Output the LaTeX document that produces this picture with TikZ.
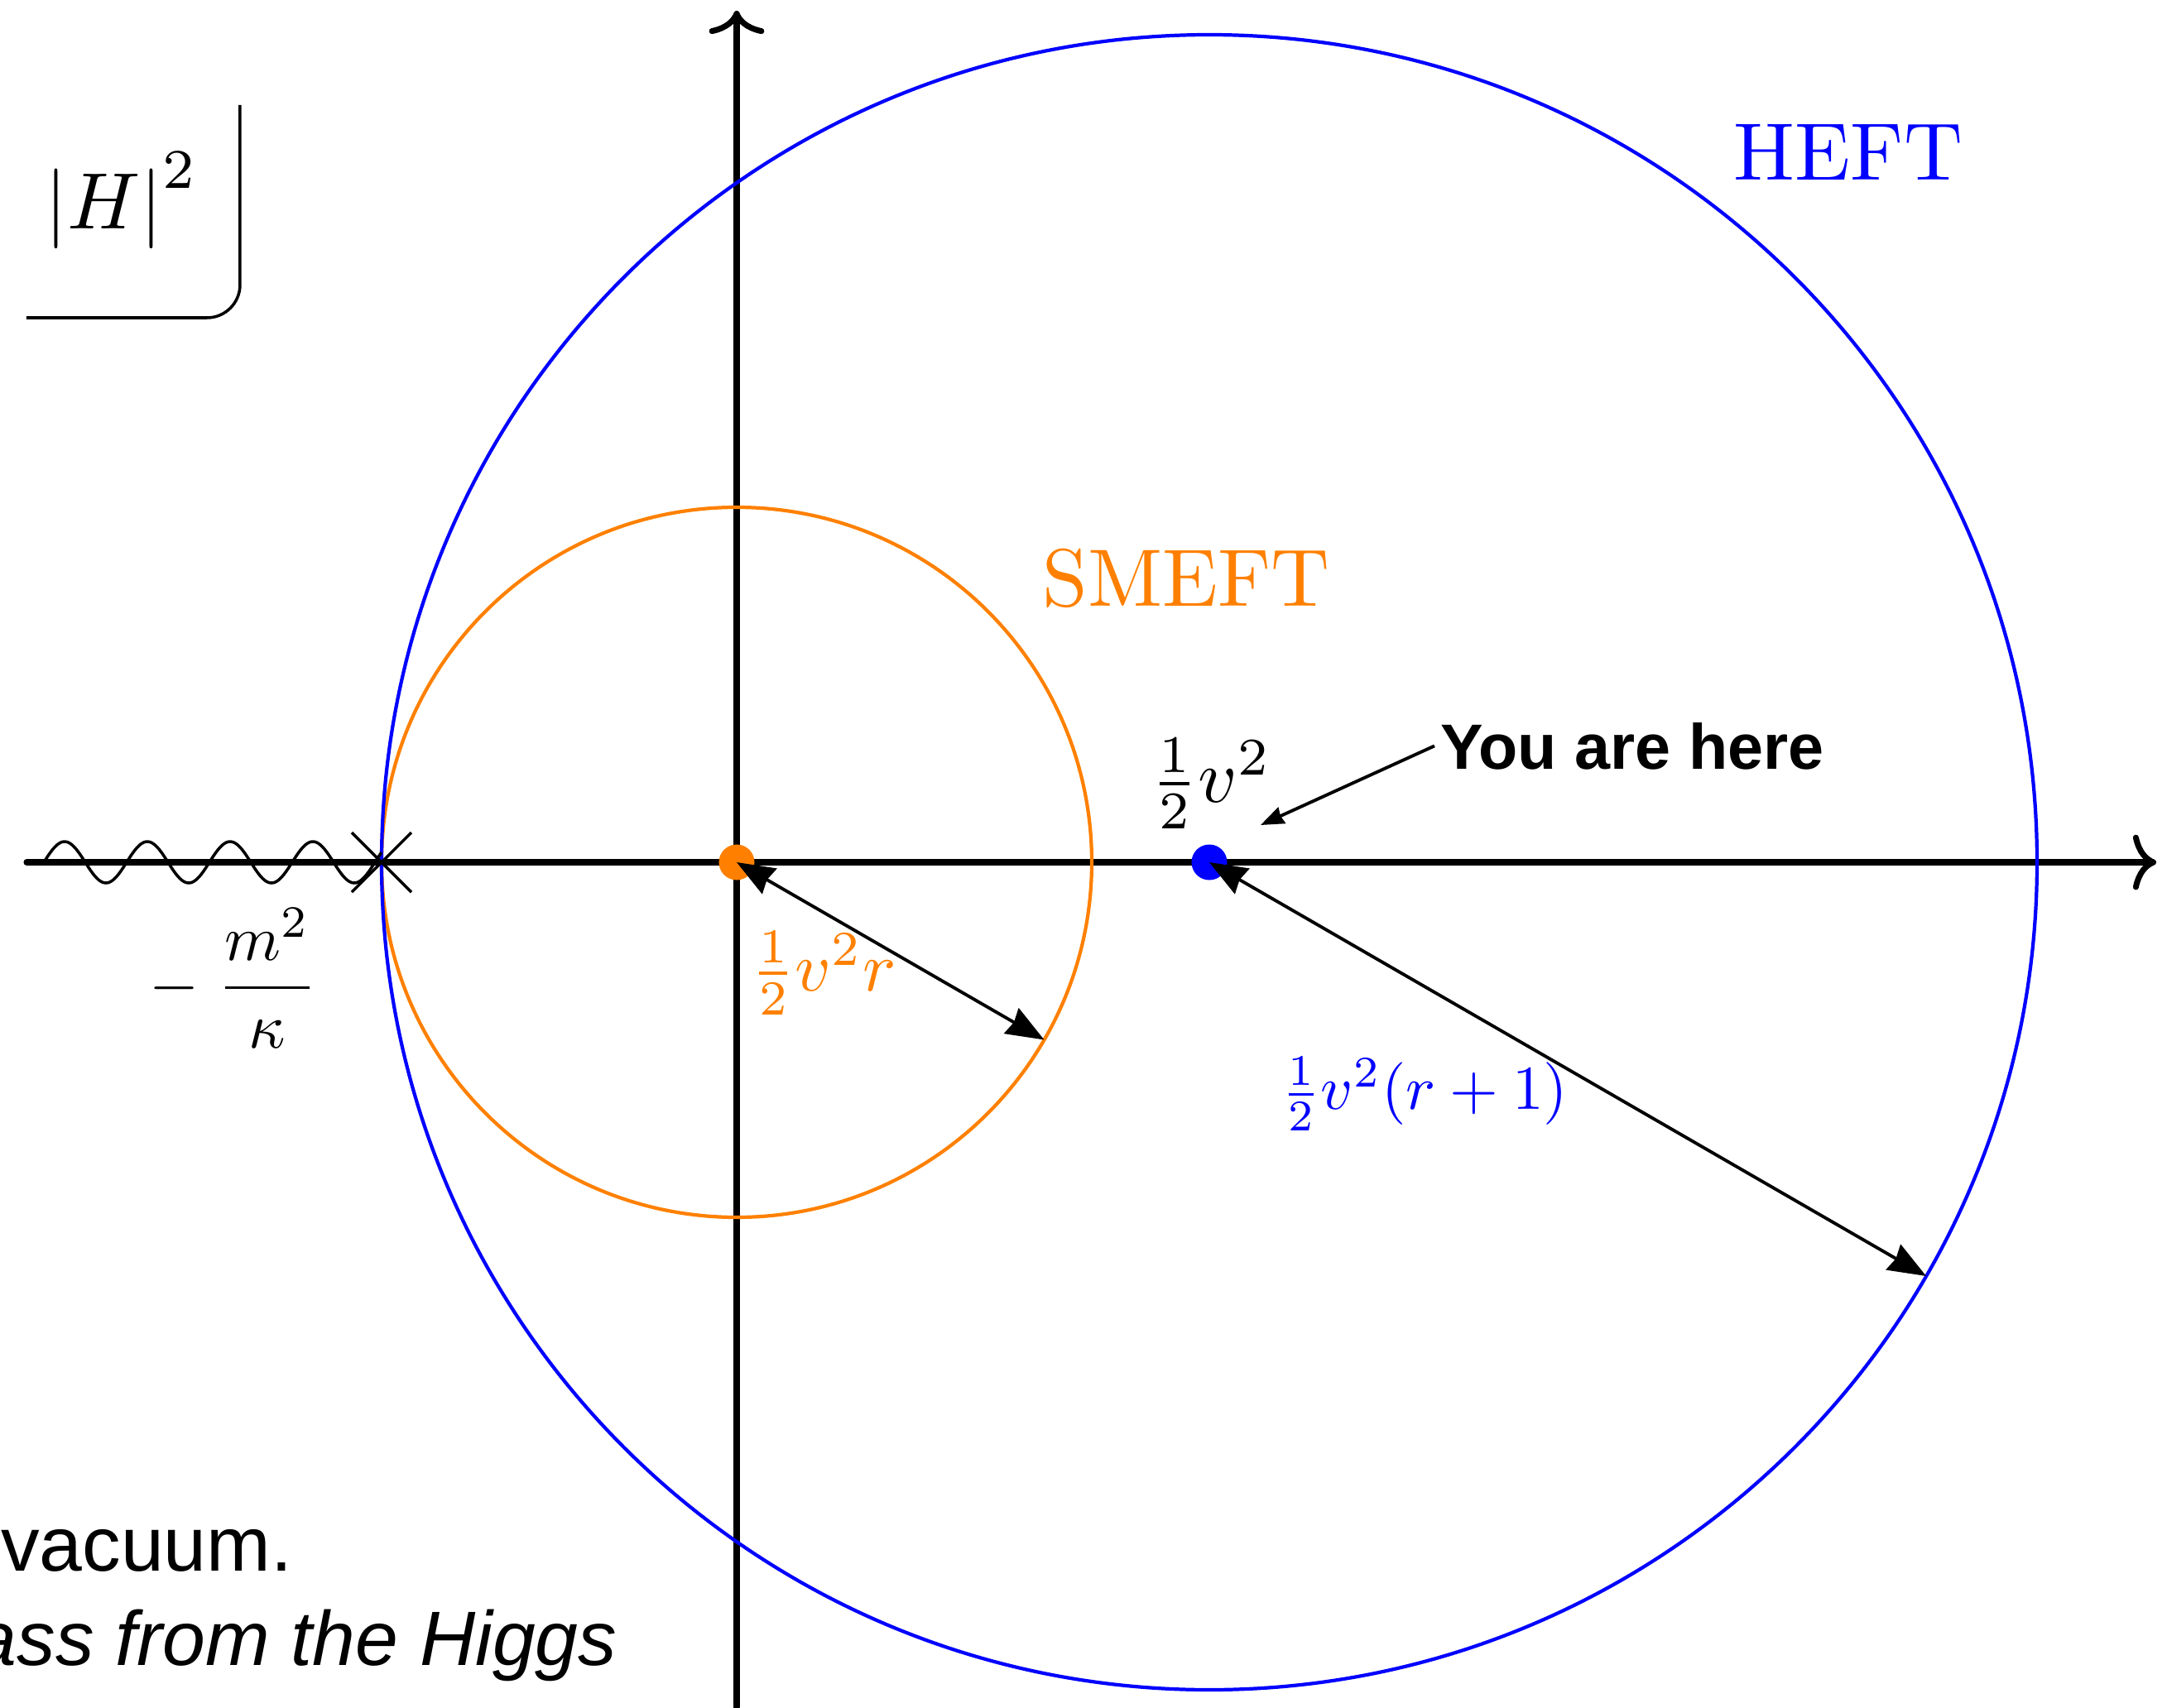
\documentclass[tikz,border=0pt]{standalone}
\usepackage{amsmath}
\usepackage{fontspec}
\setsansfont{Liberation Sans}
\usetikzlibrary{arrows.meta, calc}
\definecolor{smeft}{RGB}{255,128,0}
\definecolor{heft}{RGB}{0,0,255}
\tikzset{
  axis/.style={line width=2pt, line cap=round,
    -{Computer Modern Rightarrow[length=8pt, width=19pt, line width=2pt]}},
  ring/.style={line width=1.2pt},
  wave/.style={line width=1pt},
  frame/.style={line width=1pt, rounded corners=0.4cm},
  radius/.style={line width=1.1pt,
    {Stealth[length=13pt, width=10pt, inset=1pt]}-{Stealth[length=13pt, width=10pt, inset=1pt]}},
  pointer/.style={line width=1.1pt, -{Stealth[length=8pt, width=6pt, inset=0.5pt]}},
  label/.style={inner sep=0pt},
  herebox/.style={font=\sffamily\bfseries\fontsize{22}{26}\selectfont, inner sep=2pt},
  caption/.style={font=\sffamily\fontsize{26.5}{32}\selectfont, inner sep=0pt}
}

\begin{document}
\begin{tikzpicture}
    \useasboundingbox (-8.90,-10.21) rectangle (17.28,10.42);
    \coordinate (O) at (0,0);
    \coordinate (vev) at (5.71,0);
    \coordinate (pole) at (-4.29,0);
    \coordinate (orim) at (-30:4.29);
    \coordinate (hrim) at ($(vev)+(-30:10)$);
    \coordinate (here) at (6.33,0.45);
    \draw[axis] (-8.58,0) -- (17.15,0);
    \draw[axis] (0,-10.21) -- (0,10.29);
    \draw[ring, smeft] (O) circle (4.29);
    \draw[ring, heft] (vev) circle (10);
    \draw[wave] plot[domain=-8.37:-4.29, samples=160, smooth]
      (\x, {0.25*sin(360*(\x+8.37))});
    \draw[wave] (pole) +(-0.36,-0.36) -- +(0.36,0.36)
      (pole) +(-0.36,0.36) -- +(0.36,-0.36);
    \fill[smeft] (O) circle (0.215);
    \fill[heft] (vev) circle (0.215);
    \draw[radius] (O) -- (orim);
    \draw[radius] (vev) -- (hrim);
    \draw[frame] (-8.58,6.58) -- (-6.00,6.58) -- (-6.00,9.15);
    \node[label] (modsq) at (-7.43,8.00) {\scalebox{2.75}{$\left|H\right|^2$}};
    \node[label, heft] (hefttext) at (13.43,8.58) {\scalebox{2.8}{HEFT}};
    \node[label, smeft] (smefttext) at (5.43,3.43) {\scalebox{2.8}{SMEFT}};
    \node[herebox, anchor=base west] (you) at (8.43,1.13) {You are here};
    \draw[pointer] (you.west) -- (here);
    \node[label] (vevtext) at (5.73,0.95) {\scalebox{2.6}{$\frac{1}{2}v^2$}};
    \node[label, smeft] (orad) at (1.05,-1.34) {\scalebox{2.4}{$\frac{1}{2}v^2r$}};
    \node[label, heft] (hrad) at (8.31,-2.80) {\scalebox{2.15}{$\frac{1}{2}v^2(r+1)$}};
    \node[label] (polemass) at (-6.08,-1.40)
      {\scalebox{2.2}{$\displaystyle -\;\frac{m^2}{\kappa}$}};
    \node[caption, anchor=base east] (vacuum) at (-5.36,-8.56) {vacuum.};
    \node[caption, anchor=base east] (higgs) at (-1.44,-9.70) {\itshape ass from the Higgs};
  \end{tikzpicture}
\end{document}
